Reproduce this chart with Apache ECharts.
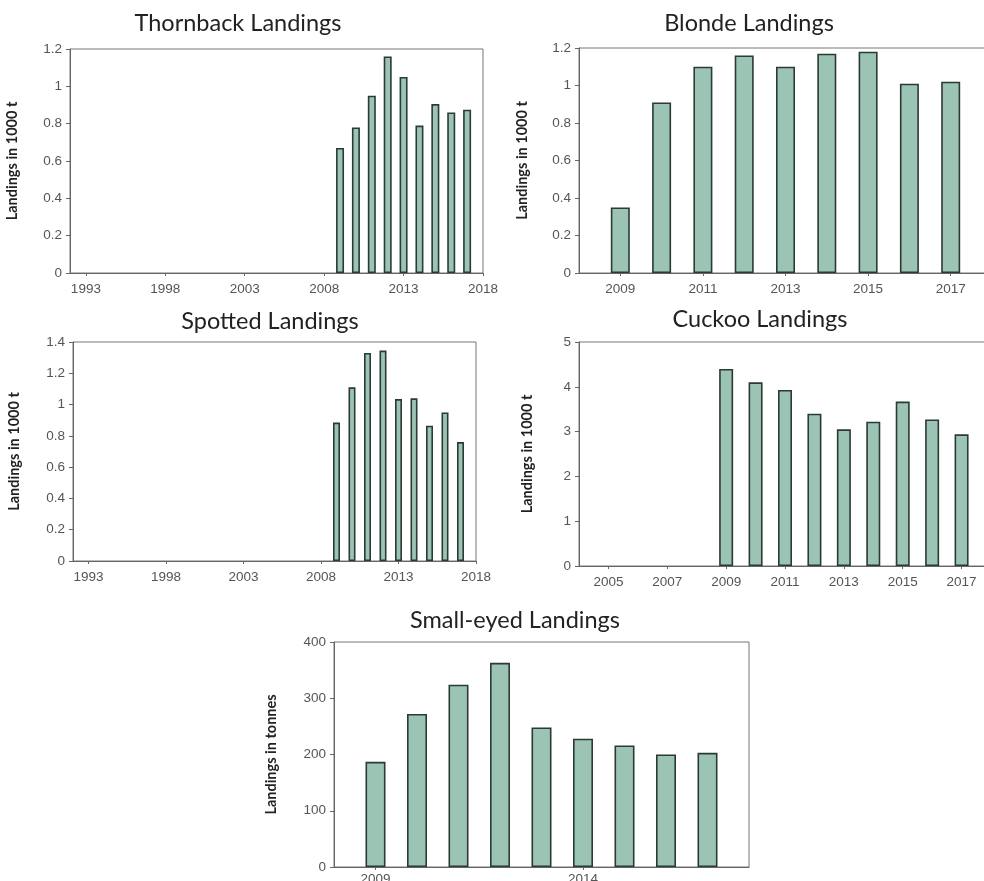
<!DOCTYPE html>
<html>
<head>
<meta charset="utf-8">
<script src="https://cdn.jsdelivr.net/npm/echarts@6/dist/echarts.min.js"></script>
<style>html,body{margin:0;padding:0;background:#fff}#c{width:984px;height:881px}</style>
</head>
<body>
<div id="c"></div>
<script>
// Data
const barYears = [2009, 2010, 2011, 2012, 2013, 2014, 2015, 2016, 2017];
const thornback = [0.67, 0.78, 0.95, 1.16, 1.05, 0.79, 0.905, 0.86, 0.875];
const blonde = [0.35, 0.91, 1.10, 1.16, 1.10, 1.17, 1.18, 1.01, 1.02];
const spotted = [0.885, 1.11, 1.33, 1.345, 1.035, 1.04, 0.865, 0.95, 0.76];
const cuckoo = [4.40, 4.10, 3.93, 3.40, 3.05, 3.22, 3.67, 3.27, 2.94];
const smallEyed = [187, 272, 324, 363, 248, 228, 216, 200, 203];

const titles = ['Thornback Landings', 'Blonde Landings', 'Spotted Landings', 'Cuckoo Landings', 'Small-eyed Landings'];
const yNames = ['Landings in 1000 t', 'Landings in 1000 t', 'Landings in 1000 t', 'Landings in 1000 t', 'Landings in tonnes'];
// x-axis year ranges and the years that carry a tick label
const xStart = [1992, 2008, 1992, 2004, 2008];
const xEnd = [2018, 2018, 2018, 2018, 2018];
const xLabelYears = [
  [1993, 1998, 2003, 2008, 2013, 2018],
  [2009, 2011, 2013, 2015, 2017],
  [1993, 1998, 2003, 2008, 2013, 2018],
  [2005, 2007, 2009, 2011, 2013, 2015, 2017],
  [2009, 2014]
];
const yMax = [1.2, 1.2, 1.4, 5, 400];
const yStep = [0.2, 0.2, 0.2, 1, 100];
const seriesVals = [thornback, blonde, spotted, cuckoo, smallEyed];

// Layout
const grids = [
  {left: 70, top: 49, width: 413, height: 224},
  {left: 579, top: 48, width: 413, height: 225},
  {left: 73, top: 342, width: 403, height: 219},
  {left: 579, top: 342, width: 412, height: 224},
  {left: 334, top: 642, width: 415, height: 225}
];
const titlePos = [[238, 11], [749, 11], [270, 309], [760, 307], [515, 608]];
const nameGaps = [50, 49, 51, 44, 55];
const barWidths = [8, 19, 7, 14, 20];
const xLabelMargins = [9, 9, 9, 9, 5];

const FONT = '"Liberation Sans", Arial, sans-serif';
const chart = echarts.init(document.getElementById('c'), null, {renderer: 'canvas'});

const option = {
  animation: false,
  backgroundColor: '#ffffff',
  title: titles.map((t, i) => ({
    text: t,
    left: titlePos[i][0],
    top: titlePos[i][1],
    textAlign: 'center',
    padding: 0,
    textStyle: {fontFamily: 'Lato, sans-serif', fontWeight: 'normal', fontSize: 23.5, color: '#222'}
  })),
  grid: grids.map(g => Object.assign({show: true, borderColor: '#777', borderWidth: 1, backgroundColor: 'transparent', containLabel: false, outerBoundsMode: 'none'}, g)),
  xAxis: grids.map((g, i) => {
    const cats = [];
    for (let y = xStart[i]; y <= xEnd[i]; y++) cats.push(String(y));
    const shown = (idx, val) => xLabelYears[i].indexOf(Number(val)) >= 0;
    return {
      type: 'category',
      gridIndex: i,
      data: cats,
      boundaryGap: false,
      axisLine: {lineStyle: {color: '#666', width: 1}},
      axisTick: {show: true, length: 3, interval: shown, lineStyle: {color: '#666'}},
      axisLabel: {interval: shown, color: '#555', fontFamily: FONT, fontSize: 13.5, margin: xLabelMargins[i], showMinLabel: true, showMaxLabel: true},
      splitLine: {show: false}
    };
  }),
  yAxis: grids.map((g, i) => ({
    type: 'value',
    gridIndex: i,
    min: 0,
    max: yMax[i],
    interval: yStep[i],
    name: yNames[i],
    nameLocation: 'middle',
    nameGap: nameGaps[i],
    nameTextStyle: {fontFamily: 'Lato, sans-serif', fontWeight: 'bold', fontSize: 14.5, color: '#222'},
    axisLine: {show: true, lineStyle: {color: '#666', width: 1}},
    axisTick: {show: true, length: 4, lineStyle: {color: '#666'}},
    axisLabel: {color: '#555', fontFamily: FONT, fontSize: 13.5, margin: 8},
    splitLine: {show: false}
  })),
  series: seriesVals.map((vals, i) => {
    const data = [];
    for (let y = xStart[i]; y <= xEnd[i]; y++) {
      const k = barYears.indexOf(y);
      data.push(k >= 0 ? vals[k] : null);
    }
    return {
      type: 'bar',
      xAxisIndex: i,
      yAxisIndex: i,
      data: data,
      barWidth: barWidths[i],
      itemStyle: {color: '#9cc4b4', borderColor: '#2b3a33', borderWidth: 1.6}
    };
  })
};
chart.setOption(option);
</script>
</body>
</html>
